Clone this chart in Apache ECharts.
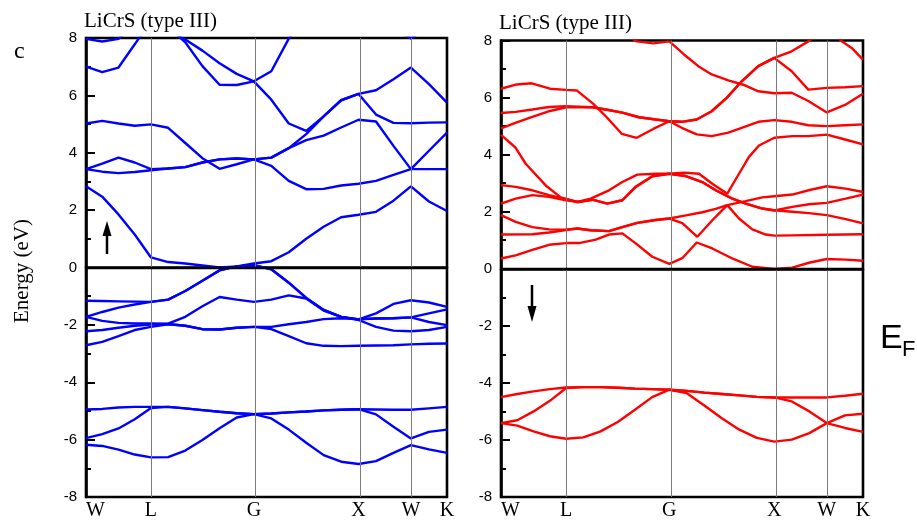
<!DOCTYPE html>
<html><head><meta charset="utf-8">
<script src="https://cdn.jsdelivr.net/npm/echarts@6/dist/echarts.min.js"></script>
<style>html,body{margin:0;padding:0;background:#fff}#c{width:917px;height:521px}</style>
</head><body><div id="c"></div>
<script>
// ---- k-path (normalised path length) ----
const kTicks  = [0, 0.18, 0.465, 0.755, 0.9, 1];
const kLabels = ['W', 'L', 'G', 'X', 'W', 'K'];
const kGrid = [0, 0.045, 0.09, 0.135, 0.18, 0.2275, 0.275, 0.3225, 0.37, 0.4175, 0.465,
               0.5133, 0.5617, 0.61, 0.6583, 0.7067, 0.755, 0.8033, 0.8517, 0.9, 0.95, 1];
const eMin = -8, eMax = 8, eStep = 2;

// ---- spin up (left panel), energies on kGrid ----
const upA  = [2.83, 2.47, 1.85, 1.15, 0.35, 0.19, 0.14, 0.07, 0.0, 0.04, 0.14, 0.22, 0.53, 1.0, 1.42, 1.75, 1.84, 1.94, 2.33, 2.83, 2.3, 1.97];
const upB  = [3.43, 3.34, 3.29, 3.33, 3.39, 3.45, 3.5, 3.66, 3.77, 3.8, 3.77, 3.54, 3.02, 2.73, 2.74, 2.86, 2.92, 3.02, 3.23, 3.43, 3.43, 3.43];
const upB2 = [3.43, 3.62, 3.83, 3.66, 3.43, 3.45, 3.5, 3.66, 3.77, 3.8, 3.77, 3.83, 4.16, 4.44, 4.6, 4.88, 5.15, 5.09, 4.24, 3.43, 4.07, 4.7];
const upF  = [5.02, 5.11, 5.02, 4.94, 4.99, 4.87, 4.34, 3.81, 3.44, 3.6, 3.77, 3.83, 4.16, 4.65, 5.27, 5.83, 6.05, 6.18, 6.56, 6.97, 6.39, 5.75];
const upQ  = [7.0, 6.81, 6.97, 7.78, 8.6, 8.3, 7.95, 7.56, 7.12, 6.75, 6.49, 5.85, 5.02, 4.76, 5.27, 5.83, 6.05, 5.33, 5.04, 5.03, 5.05, 5.06];
const upP  = [7.97, 7.88, 7.97, 8.5, null, 8.4, 7.85, 7.02, 6.37, 6.36, 6.49, 6.84, 7.98, 8.8, null, null, null, null, 8.4, 7.98, 8.4, null];
const upV1 = [-1.16, -1.17, -1.18, -1.19, -1.2, -1.12, -0.82, -0.46, -0.1, 0.04, 0.08, -0.06, -0.53, -1.06, -1.48, -1.72, -1.81, -1.6, -1.27, -1.14, -1.22, -1.37];
const upV2 = [-1.72, -1.55, -1.4, -1.29, -1.2, -1.12, -0.82, -0.46, -0.1, 0.04, 0.08, -0.06, -0.53, -1.06, -1.48, -1.72, -1.81, -1.78, -1.77, -1.74, -1.6, -1.46];
const upV3 = [-1.72, -1.86, -1.93, -1.95, -1.95, -1.96, -1.72, -1.35, -1.03, -1.12, -1.2, -1.12, -0.97, -1.08, -1.5, -1.72, -1.83, -2.07, -2.2, -2.22, -2.18, -2.07];
const upV4 = [-2.22, -2.18, -2.1, -2.03, -1.99, -1.97, -2.03, -2.15, -2.16, -2.1, -2.07, -2.07, -1.98, -1.9, -1.8, -1.77, -1.8, -1.78, -1.77, -1.74, -1.9, -2.01];
const upV5 = [-2.71, -2.59, -2.39, -2.18, -2.07, -1.98, -2.03, -2.15, -2.16, -2.1, -2.07, -2.15, -2.39, -2.64, -2.73, -2.74, -2.73, -2.72, -2.71, -2.68, -2.66, -2.65];
const upD1 = [-4.95, -4.93, -4.88, -4.86, -4.86, -4.86, -4.91, -4.97, -5.03, -5.08, -5.11, -5.09, -5.05, -5.02, -4.98, -4.96, -4.94, -4.95, -4.96, -4.96, -4.91, -4.86];
const upD2 = [-5.95, -5.81, -5.61, -5.29, -4.9, -4.86, -4.91, -4.97, -5.03, -5.08, -5.11, -5.09, -5.05, -5.02, -4.98, -4.96, -4.94, -5.12, -5.55, -5.96, -5.73, -5.65];
const upD3 = [-6.18, -6.22, -6.35, -6.52, -6.62, -6.61, -6.38, -6.01, -5.6, -5.23, -5.11, -5.26, -5.65, -6.11, -6.54, -6.77, -6.85, -6.75, -6.46, -6.19, -6.34, -6.46];

// ---- spin down (right panel) ----
const dnD1 = [-4.5, -4.39, -4.3, -4.22, -4.16, -4.15, -4.15, -4.17, -4.2, -4.22, -4.24, -4.28, -4.34, -4.39, -4.44, -4.49, -4.51, -4.51, -4.51, -4.51, -4.45, -4.38];
const dnD2 = [-5.41, -5.31, -5.0, -4.63, -4.18, -4.15, -4.15, -4.17, -4.2, -4.22, -4.24, -4.28, -4.34, -4.39, -4.44, -4.49, -4.51, -4.65, -5.0, -5.41, -5.14, -5.08];
const dnD3 = [-5.41, -5.5, -5.7, -5.87, -5.96, -5.91, -5.7, -5.37, -4.94, -4.5, -4.24, -4.36, -4.79, -5.24, -5.64, -5.93, -6.06, -5.99, -5.76, -5.41, -5.58, -5.72];
// conduction bands as [k, E] pairs
const dnC1 = [[0,0.36],[0.0406,0.47],[0.0865,0.66],[0.1326,0.84],[0.18,0.9],[0.2155,0.9],[0.2616,1.02],[0.2983,1.2],[0.3351,1.24],[0.3721,0.89],[0.418,0.42],[0.465,0.17],[0.5008,0.37],[0.5406,0.92],[0.5837,0.71],[0.639,0.36],[0.6942,0.07],[0.755,-0.01],[0.8047,0.04],[0.8508,0.21],[0.9,0.34],[0.9522,0.32],[1,0.28]];
const dnC2 = [[0,1.2],[0.0865,1.21],[0.1326,1.27],[0.18,1.36],[0.2108,1.41],[0.2478,1.35],[0.2983,1.32],[0.3351,1.46],[0.3765,1.61],[0.4273,1.71],[0.465,1.76],[0.511,1.87],[0.5561,1.98],[0.5931,2.1],[0.6251,2.23],[0.676,2.37],[0.7218,2.5],[0.755,2.54],[0.8047,2.6],[0.8555,2.77],[0.9,2.89],[0.9522,2.81],[1,2.69]];
const dnC3 = [[0,1.88],[0.0406,1.64],[0.0865,1.46],[0.1326,1.38],[0.18,1.37],[0.2108,1.41],[0.2478,1.35],[0.2983,1.32],[0.3351,1.46],[0.3765,1.61],[0.4273,1.71],[0.465,1.76],[0.5008,1.6],[0.5423,1.12],[0.5837,1.7],[0.6251,2.23],[0.6575,1.76],[0.6942,1.38],[0.7312,1.2],[0.755,1.16],[0.8047,1.17],[0.9,1.19],[1,1.21]];
const dnC4 = [[0,2.28],[0.0406,2.46],[0.0865,2.58],[0.1326,2.52],[0.18,2.4],[0.2155,2.34],[0.2522,2.42],[0.2936,2.28],[0.3351,2.4],[0.3721,2.87],[0.418,3.24],[0.465,3.33],[0.5102,3.25],[0.5561,3.04],[0.5931,2.75],[0.639,2.46],[0.676,2.28],[0.7218,2.11],[0.755,2.05],[0.8047,2.0],[0.8508,1.95],[0.9,1.88],[0.9522,1.74],[1,1.59]];
const dnC5 = [[0,2.93],[0.0406,2.87],[0.0865,2.75],[0.1326,2.58],[0.18,2.44],[0.2108,2.34],[0.2478,2.46],[0.2983,2.75],[0.3351,3.04],[0.3765,3.3],[0.4273,3.33],[0.465,3.33],[0.5055,3.37],[0.547,3.33],[0.5837,2.98],[0.6251,2.63],[0.6575,3.33],[0.685,3.92],[0.7127,4.32],[0.755,4.59],[0.8047,4.65],[0.8489,4.65],[0.9,4.7],[0.9503,4.53],[1,4.36]];
const dnC6 = [[0,4.69],[0.0406,4.24],[0.0682,3.68],[0.1235,2.92],[0.1649,2.5],[0.18,2.45],[0.2108,2.34],[0.2522,2.42],[0.2936,2.28],[0.3351,2.4],[0.3721,2.87],[0.418,3.24],[0.465,3.33],[0.5102,3.25],[0.5561,3.04],[0.5931,2.75],[0.639,2.46],[0.676,2.28],[0.7218,2.11],[0.755,2.04],[0.8047,2.17],[0.8508,2.26],[0.9,2.31],[0.9522,2.46],[1,2.6]];
const dnC7 = [[0,4.92],[0.0434,5.13],[0.0865,5.32],[0.1354,5.53],[0.18,5.66],[0.2522,5.66],[0.2892,5.58],[0.3351,5.47],[0.3812,5.31],[0.4273,5.23],[0.465,5.17],[0.4992,4.94],[0.5406,4.71],[0.582,4.65],[0.6279,4.77],[0.6649,4.94],[0.7108,5.15],[0.755,5.21],[0.803,5.15],[0.8489,5.03],[0.9,5.0],[0.9503,5.03],[1,5.06]];
const dnC8 = [[0,5.46],[0.0406,5.5],[0.0865,5.58],[0.1326,5.67],[0.18,5.7],[0.2522,5.66],[0.2892,5.58],[0.3351,5.47],[0.3812,5.31],[0.4273,5.23],[0.465,5.17],[0.4992,5.15],[0.5406,5.23],[0.582,5.52],[0.6235,5.99],[0.6649,6.57],[0.7108,7.1],[0.755,7.39],[0.803,7.62],[0.8489,7.97],[0.89,8.4],[0.92,8.25],[0.9412,7.97],[0.9688,7.74],[1,7.33]];
const dnC9 = [[0,6.31],[0.0434,6.46],[0.0848,6.5],[0.1354,6.31],[0.18,6.27],[0.2091,6.25],[0.255,5.78],[0.292,5.31],[0.3334,4.73],[0.3749,4.59],[0.4207,4.9],[0.465,5.17],[0.4992,5.15],[0.5406,5.23],[0.582,5.52],[0.6235,5.99],[0.6649,6.57],[0.7108,7.1],[0.755,7.39],[0.803,6.92],[0.8489,6.28],[0.9,6.34],[0.9503,6.36],[1,6.4]];
const dnC10 = [[0.345,8.2],[0.3749,7.97],[0.4207,7.9],[0.465,7.97],[0.5055,7.51],[0.545,7.1],[0.582,6.81],[0.6279,6.6],[0.6693,6.45],[0.7108,6.22],[0.755,6.15],[0.803,6.17],[0.8489,5.88],[0.9,5.48],[0.9503,5.74],[1,6.13]];

const upBands = [upA, upB, upB2, upF, upQ, upP, upV1, upV2, upV3, upV4, upV5, upD1, upD2, upD3];
const dnGridBands = [dnD1, dnD2, dnD3];
const dnPairBands = [dnC1, dnC2, dnC3, dnC4, dnC5, dnC6, dnC7, dnC8, dnC9, dnC10];

const BLUE = '#0000ff', RED = '#ff0000';
const onGrid = b => kGrid.map((k, i) => [k, b[i] === null ? '-' : b[i]]);

function band(data, color, gi) {
  return { type: 'line', xAxisIndex: gi, yAxisIndex: gi, data: data, symbol: 'none', showSymbol: false,
    lineStyle: { color: color, width: 2.4 }, silent: true, z: 3, clip: true, connectNulls: false, animation: false };
}
function guides(gi) {
  return { type: 'line', xAxisIndex: gi, yAxisIndex: gi, data: [], z: 1, silent: true,
    markLine: { silent: true, symbol: ['none', 'none'], label: { show: false }, animation: false,
      lineStyle: { color: '#7a7a7a', width: 1, type: 'solid' },
      data: kTicks.slice(1, 5).map(v => ({ xAxis: v })).concat([{ yAxis: 0, lineStyle: { color: '#000', width: 2.4, type: 'solid' } }]) } };
}
const fmtK = v => { const i = kTicks.findIndex(t => Math.abs(t - v) < 1e-6); return i >= 0 ? kLabels[i] : ''; };

function xAx(gi) {
  return { gridIndex: gi, type: 'value', min: 0, max: 1,
    axisLine: { show: true, lineStyle: { color: '#000', width: 2.6 } }, axisTick: { show: false }, splitLine: { show: false },
    axisLabel: { customValues: kTicks, formatter: fmtK, fontFamily: 'Liberation Serif', fontSize: 20, color: '#000', margin: 4,
      alignMinLabel: 'left', showMinLabel: true, showMaxLabel: true } };
}
function yAx(gi) {
  return { gridIndex: gi, type: 'value', min: eMin, max: eMax, interval: eStep,
    axisLine: { show: true, lineStyle: { color: '#000', width: 2.6 } },
    axisTick: { show: true, inside: true, length: 9, lineStyle: { color: '#000', width: 2 } },
    minorTick: { show: true, splitNumber: 2, length: 5, lineStyle: { color: '#000', width: 2 } },
    splitLine: { show: false }, minorSplitLine: { show: false },
    axisLabel: { fontFamily: 'Liberation Sans', fontSize: 15, color: '#000', margin: 9 } };
}

const series = [guides(0), guides(1)]
  .concat(upBands.map(b => band(onGrid(b), BLUE, 0)))
  .concat(dnGridBands.map(b => band(onGrid(b), RED, 1)))
  .concat(dnPairBands.map(b => band(b, RED, 1)));

const chart = echarts.init(document.getElementById('c'), null, { renderer: 'canvas' });
chart.setOption({
  animation: false,
  backgroundColor: '#fff',
  grid: [
    { left: 86, top: 38, width: 361, height: 459, show: true, borderColor: '#000', borderWidth: 2.6, backgroundColor: 'transparent', containLabel: false, outerBoundsMode: 'none' },
    { left: 501, top: 40.5, width: 362, height: 456.5, show: true, borderColor: '#000', borderWidth: 2.6, backgroundColor: 'transparent', containLabel: false, outerBoundsMode: 'none' }
  ],
  xAxis: [xAx(0), xAx(1)],
  yAxis: [yAx(0), yAx(1)],
  series: series,
  graphic: [
    { type: 'text', left: 84, top: 11, style: { text: 'LiCrS (type III)', font: '21px "Liberation Serif"', fill: '#000' } },
    { type: 'text', left: 499, top: 13, style: { text: 'LiCrS (type III)', font: '21px "Liberation Serif"', fill: '#000' } },
    { type: 'text', left: 14, top: 40, style: { text: 'c', font: '24px "Liberation Serif"', fill: '#000' } },
    { type: 'text', x: 22, y: 271, rotation: Math.PI / 2, style: { text: 'Energy (eV)', font: '21px "Liberation Serif"', fill: '#000', align: 'center', verticalAlign: 'middle' } },
    { type: 'text', left: 880, top: 322, style: { text: 'E', font: '34px "Liberation Sans"', fill: '#000' } },
    { type: 'text', left: 902, top: 339, style: { text: 'F', font: '22px "Liberation Sans"', fill: '#000' } },
    { type: 'line', shape: { x1: 107, y1: 254, x2: 107, y2: 234 }, style: { stroke: '#000', lineWidth: 2.5 } },
    { type: 'polygon', shape: { points: [[102.5, 236], [111.5, 236], [107, 221]] }, style: { fill: '#000' } },
    { type: 'line', shape: { x1: 532, y1: 285, x2: 532, y2: 307 }, style: { stroke: '#000', lineWidth: 2.5 } },
    { type: 'polygon', shape: { points: [[527.5, 306], [536.5, 306], [532, 322]] }, style: { fill: '#000' } }
  ]
});
</script></body></html>
